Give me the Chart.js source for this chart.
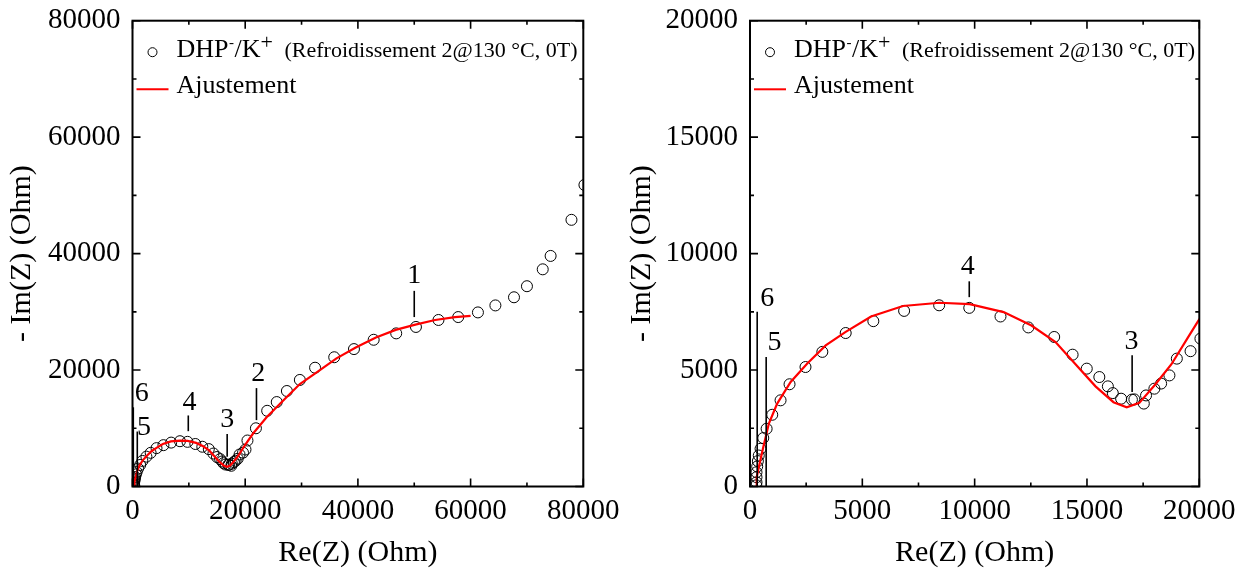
<!DOCTYPE html>
<html>
<head>
<meta charset="utf-8">
<script src="https://cdn.jsdelivr.net/npm/chart.js@4.4.1/dist/chart.umd.min.js"></script>
<style>
  html, body { margin: 0; padding: 0; background: #fff; }
  #wrap { position: relative; width: 1247px; height: 575px; overflow: hidden; }
  canvas { position: absolute; top: 0; }
</style>
</head>
<body>
<div id="wrap">
  <canvas id="chartLeft" width="620" height="575" style="left:0px"></canvas>
  <canvas id="chartRight" width="627" height="575" style="left:620px"></canvas>
</div>
<script>
// measured impedance (Ohm)
const reZ = [280, 290, 290, 290, 320, 350, 390, 470, 590, 740, 990, 1360, 1760, 2470, 3220, 4260, 5490, 6860, 8420, 9760,
  11150, 12390, 13540, 14360, 14990, 15550, 15930, 16150, 16520, 17000, 17110, 17530, 17630, 18000, 18300, 18670, 19000,
  19610, 20050, 20400, 21900, 23900, 25600, 27400, 29700, 32400, 35800, 39300, 42800, 46800, 50300, 54300, 57800, 61300,
  64400, 67700, 70000, 72800, 74200, 77900, 80200];
const imZ = [50, 180, 400, 610, 860, 1090, 1330, 1620, 2080, 2480, 3080, 3700, 4390, 5130, 5780, 6590, 7100, 7540, 7780, 7670,
  7300, 6830, 6420, 5660, 5060, 4700, 4300, 4010, 3770, 3730, 3740, 3560, 3910, 4200, 4420, 4770, 5490,
  5810, 6350, 7900, 10000, 13000, 14500, 16400, 18300, 20400, 22200, 23600, 25200, 26300, 27400, 28600, 29100, 29900,
  31100, 32500, 34400, 37300, 39600, 45800, 51800];

// fitted curve
const fitRe = [270, 300, 390, 590, 840, 1210, 1810, 2550, 3370, 4260, 5390, 6810, 8440, 9780, 11290, 12530, 13600, 14490,
  15380, 16180, 16770, 17330, 18040, 18760, 19470, 19960, 21400, 23800, 26800, 29700, 33000, 36200, 39700, 43200, 46700,
  50200, 53700, 57200, 60000];
const fitIm = [0, 400, 830, 1690, 2700, 3560, 4490, 5280, 6060, 6640, 7300, 7750, 7890, 7830, 7490, 6910, 6200, 5250,
  4300, 3620, 3400, 3590, 4380, 5250, 6360, 7120, 9100, 11900, 14800, 17600, 19800, 22000, 23900, 25600, 26900,
  27800, 28600, 29100, 29300];

// axis ranges / ticks
const leftTicks = [0, 20000, 40000, 60000, 80000];
const rightTicks = [0, 5000, 10000, 15000, 20000];

// numbered markers: label, x of the bar, bar from/to, label position
const leftMarkText = ['1', '2', '3', '4', '5', '6'];
const leftMarkRe = [50000, 22000, 16800, 9900, 850, 140];
const leftMarkFrom = [29100, 11400, 5100, 9500, 0, 0];
const leftMarkTo = [33600, 16900, 9000, 12200, 9440, 13600];
const leftMarkTextRe = [50000, 22300, 16800, 10100, 2040, 1630];
const leftMarkTextIm = [36600, 19700, 11900, 14700, 10500, 16300];

const rightMarkText = ['6', '5', '4', '3'];
const rightMarkRe = [320, 720, 9760, 17010];
const rightMarkFrom = [0, 0, 8130, 4060];
const rightMarkTo = [7500, 5560, 8810, 5640];
const rightMarkTextRe = [770, 1090, 9690, 16980];
const rightMarkTextIm = [8140, 6280, 9550, 6320];

const serif = "'Liberation Serif', 'Times New Roman', serif";

const framePlugin = {
  id: 'frame',
  afterDatasetsDraw(chart, args, opts) {
    const ctx = chart.ctx;
    const a = chart.chartArea;
    const xs = chart.scales.x, ys = chart.scales.y;
    ctx.save();
    ctx.strokeStyle = '#000';
    ctx.lineWidth = 1.6;
    // ticks inside on four sides
    const step = opts.step;
    for (let v = 0; v <= opts.max + 1; v += step / 2) {
      const major = (v % step) === 0;
      const len = major ? 8 : 4;
      const px = xs.getPixelForValue(v);
      const py = ys.getPixelForValue(v);
      ctx.beginPath();
      ctx.moveTo(px, a.bottom); ctx.lineTo(px, a.bottom - len);
      ctx.moveTo(px, a.top); ctx.lineTo(px, a.top + len);
      ctx.moveTo(a.left, py); ctx.lineTo(a.left + len, py);
      ctx.moveTo(a.right, py); ctx.lineTo(a.right - len, py);
      ctx.stroke();
    }
    ctx.lineWidth = 2;
    ctx.strokeRect(a.left, a.top, a.right - a.left, a.bottom - a.top);

    // numbered markers
    ctx.lineWidth = 1.6;
    ctx.fillStyle = '#000';
    ctx.font = '28px ' + serif;
    ctx.textAlign = 'center';
    ctx.textBaseline = 'alphabetic';
    opts.text.forEach((t, i) => {
      const lx = xs.getPixelForValue(opts.re[i]);
      ctx.beginPath();
      ctx.moveTo(lx, ys.getPixelForValue(opts.from[i]));
      ctx.lineTo(lx, ys.getPixelForValue(opts.to[i]));
      ctx.stroke();
      ctx.fillText(t, xs.getPixelForValue(opts.textRe[i]), ys.getPixelForValue(opts.textIm[i]) + 9.5);
    });

    // legend
    const lx = a.left, ty = a.top;
    ctx.textAlign = 'left';
    ctx.lineWidth = 1;
    ctx.beginPath();
    ctx.arc(lx + 20, ty + 31.5, 4.5, 0, Math.PI * 2);
    ctx.stroke();
    let x = lx + 44;
    const base = ty + 36.6;
    ctx.font = '26px ' + serif;
    ctx.fillText('DHP', x, base); x += ctx.measureText('DHP').width;
    ctx.font = '15px ' + serif;
    ctx.fillText('-', x + 0.5, base - 10); x += ctx.measureText('-').width + 1;
    ctx.font = '26px ' + serif;
    ctx.fillText('/K', x, base); x += ctx.measureText('/K').width;
    ctx.font = '22px ' + serif;
    ctx.fillText('+', x, base - 8); x += ctx.measureText('+').width;
    ctx.font = '22px ' + serif;
    ctx.fillText('(Refroidissement 2@130 °C, 0T)', lx + 152, base);

    ctx.strokeStyle = '#ff0000';
    ctx.lineWidth = 2;
    ctx.beginPath();
    ctx.moveTo(lx + 4, ty + 68.6); ctx.lineTo(lx + 36, ty + 68.6);
    ctx.stroke();
    ctx.font = '26px ' + serif;
    ctx.fillText('Ajustement', lx + 44, ty + 72.6);
    ctx.restore();
  }
};

function makeChart(id, ticks, yWidth, rightPad, marks) {
  const max = ticks[ticks.length - 1];
  const step = ticks[1] - ticks[0];
  const pts = reZ.map((r, i) => ({x: r, y: imZ[i]}));
  const fit = fitRe.map((r, i) => ({x: r, y: fitIm[i]}));
  return new Chart(document.getElementById(id), {
    type: 'scatter',
    data: {
      datasets: [
        {
          label: 'Ajustement',
          data: fit,
          showLine: true,
          borderColor: '#ff0000',
          borderWidth: 2.2,
          pointRadius: 0,
          tension: 0,
          clip: 0,
          order: 0
        },
        {
          label: 'DHP-/K+',
          data: pts,
          pointStyle: 'circle',
          pointRadius: 5.5,
          borderColor: '#000',
          borderWidth: 1,
          backgroundColor: 'rgba(0,0,0,0)',
          clip: 0,
          order: 1
        }
      ]
    },
    options: {
      responsive: false,
      animation: false,
      layout: { padding: { left: 0, top: 20.7, right: rightPad, bottom: 0 } },
      plugins: {
        legend: { display: false },
        tooltip: { enabled: false },
        frame: Object.assign({ step: step, max: max }, marks)
      },
      scales: {
        x: {
          type: 'linear', min: 0, max: max,
          grid: { display: false, drawTicks: false },
          border: { display: false },
          ticks: { stepSize: step, padding: 7, color: '#000', font: { family: serif, size: 29 }, maxRotation: 0,
                   callback: v => String(v) },
          title: { display: true, text: 'Re(Z) (Ohm)', color: '#000', font: { family: serif, size: 30 } },
          afterFit: s => { s.height = 88.5; s.paddingLeft = 0; s.paddingRight = 0; }
        },
        y: {
          type: 'linear', min: 0, max: max,
          grid: { display: false, drawTicks: false },
          border: { display: false },
          ticks: { stepSize: step, padding: 12, color: '#000', font: { family: serif, size: 29 },
                   callback: v => String(v) },
          title: { display: true, text: '- Im(Z) (Ohm)', color: '#000', font: { family: serif, size: 30 } },
          afterFit: s => { s.width = yWidth; s.paddingTop = 0; s.paddingBottom = 0; }
        }
      }
    },
    plugins: [framePlugin]
  });
}

makeChart('chartLeft', leftTicks, 132.5, 36.7, {
  text: leftMarkText, re: leftMarkRe, from: leftMarkFrom, to: leftMarkTo, textRe: leftMarkTextRe, textIm: leftMarkTextIm
});
makeChart('chartRight', rightTicks, 130, 47.7, {
  text: rightMarkText, re: rightMarkRe, from: rightMarkFrom, to: rightMarkTo, textRe: rightMarkTextRe, textIm: rightMarkTextIm
});
</script>
</body>
</html>
